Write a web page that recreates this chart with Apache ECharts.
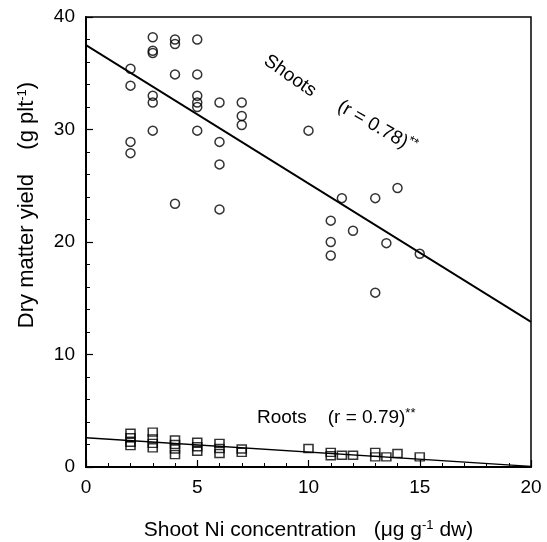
<!DOCTYPE html>
<html>
<head>
<meta charset="utf-8">
<script src="https://cdn.jsdelivr.net/npm/echarts@6/dist/echarts.min.js"></script>
<style>
html, body { margin: 0; padding: 0; background: #fff; }
#chart { width: 547px; height: 542px; }
</style>
</head>
<body>
<div id="chart"></div>
<script>
// 地上部 (Shoots) 数据: [Ni 浓度, 干物质]
var shootPts = [
	[2, 35.4], [2, 33.9], [2, 28.9], [2, 27.9],
	[3, 38.2], [3, 37.0], [3, 36.8], [3, 33.0], [3, 32.4], [3, 29.9],
	[4, 38.0], [4, 37.6], [4, 34.9], [4, 23.4],
	[5, 38.0], [5, 34.9], [5, 33.0], [5, 32.4], [5, 32.0], [5, 29.9],
	[6, 32.4], [6, 28.9], [6, 26.9], [6, 22.9],
	[7, 32.4], [7, 31.2], [7, 30.4],
	[10, 29.9],
	[11, 21.9], [11, 20.0], [11, 18.8], [11.5, 23.9], [12, 21.0],
	[13, 23.9], [13, 15.5], [13.5, 19.9], [14, 24.8], [15, 18.95]
];
// 根 (Roots) 数据
var rootPts = [
	[2, 3.0], [2, 2.6], [2, 2.2], [2, 1.9],
	[3, 3.1], [3, 2.5], [3, 2.1], [3, 1.7],
	[4, 2.4], [4, 2.0], [4, 1.6], [4, 1.1],
	[5, 2.2], [5, 1.8], [5, 1.4],
	[6, 2.1], [6, 1.65], [6, 1.2],
	[7, 1.6], [7, 1.3],
	[10, 1.65],
	[11, 1.3], [11, 1.0], [11.5, 1.05], [12, 1.05],
	[13, 1.3], [13, 0.9], [13.5, 0.9], [14, 1.2], [15, 0.9]
];
// 回归线
var shootFit = [[0, 37.5], [20, 12.9]];
var rootFit = [[0, 2.6], [20, 0.05]];

var font = 'Liberation Sans, Arial, sans-serif';
var supStyle = { fontSize : 13, verticalAlign : 'top', padding : [0, 0, 10, 0], color : '#000', fontFamily : font };
var myChart = echarts.init(document.getElementById('chart'));

var option = {
	backgroundColor : '#fff',
	animation : false,
	grid : {
		left : 86,
		right : 16,
		top : 17,
		bottom : 75,
		outerBoundsMode : 'none',
		show : true,
		borderColor : '#000',
		borderWidth : 1.5
	},
	xAxis : {
		type : 'value',
		min : 0,
		max : 20,
		interval : 5,
		name : 'Shoot Ni concentration   (\u03bcg g{sup|-1} dw)',
		nameLocation : 'middle',
		nameGap : 52,
		nameTextStyle : {
			color : '#000',
			fontFamily : font,
			fontSize : 21,
			rich : { sup : supStyle }
		},
		axisLine : { lineStyle : { color : '#000', width : 2 } },
		axisTick : { inside : true, length : 7, lineStyle : { color : '#000', width : 1.2 } },
		minorTick : { show : true, splitNumber : 5, length : 4, lineStyle : { color : '#000', width : 1 } },
		axisLabel : { color : '#000', fontFamily : font, fontSize : 19, margin : 11 },
		splitLine : { show : false }
	},
	yAxis : {
		type : 'value',
		min : 0,
		max : 40,
		interval : 10,
		axisLine : { lineStyle : { color : '#000', width : 2 } },
		axisTick : { inside : true, length : 7, lineStyle : { color : '#000', width : 1.2 } },
		minorTick : { show : true, splitNumber : 5, length : 4, lineStyle : { color : '#000', width : 1 } },
		axisLabel : { color : '#000', fontFamily : font, fontSize : 19, margin : 11 },
		splitLine : { show : false }
	},
	series : [
		{
			name : 'Shoots',
			type : 'scatter',
			data : shootPts,
			symbol : 'circle',
			symbolSize : 9,
			itemStyle : { color : 'rgba(255,255,255,0)', borderColor : '#000', borderWidth : 1.5 },
			z : 3
		},
		{
			name : 'Roots',
			type : 'scatter',
			data : rootPts,
			symbol : 'rect',
			symbolSize : [9, 8],
			itemStyle : { color : 'rgba(255,255,255,0)', borderColor : '#000', borderWidth : 1.5 },
			z : 3
		},
		{
			name : 'Shoots fit',
			type : 'line',
			data : shootFit,
			symbol : 'none',
			lineStyle : { color : '#000', width : 1.8 },
			z : 2
		},
		{
			name : 'Roots fit',
			type : 'line',
			data : rootFit,
			symbol : 'none',
			lineStyle : { color : '#000', width : 1.3 },
			z : 2
		}
	],
	graphic : [
		{
			// y 轴标题
			type : 'text',
			x : 27,
			y : 205,
			rotation : Math.PI / 2,
			style : {
				text : 'Dry matter yield    (g plt{sup|-1})',
				fill : '#000',
				font : '22px ' + font,
				align : 'center',
				verticalAlign : 'middle',
				rich : { sup : supStyle }
			}
		},
		{
			type : 'text',
			x : 290,
			y : 76,
			rotation : -35 * Math.PI / 180,
			style : { text : 'Shoots', fill : '#000', font : '19px ' + font, align : 'center', verticalAlign : 'middle' }
		},
		{
			type : 'text',
			x : 377,
			y : 127,
			rotation : -30 * Math.PI / 180,
			style : {
				text : '(r = 0.78){sup|**}',
				fill : '#000',
				font : '19px ' + font,
				align : 'center',
				verticalAlign : 'middle',
				rich : { sup : supStyle }
			}
		},
		{
			type : 'text',
			x : 257,
			y : 418,
			style : {
				text : 'Roots    (r = 0.79){sup|**}',
				fill : '#000',
				font : '19px ' + font,
				align : 'left',
				verticalAlign : 'middle',
				rich : { sup : supStyle }
			}
		}
	]
};
myChart.setOption(option);
</script>
</body>
</html>
